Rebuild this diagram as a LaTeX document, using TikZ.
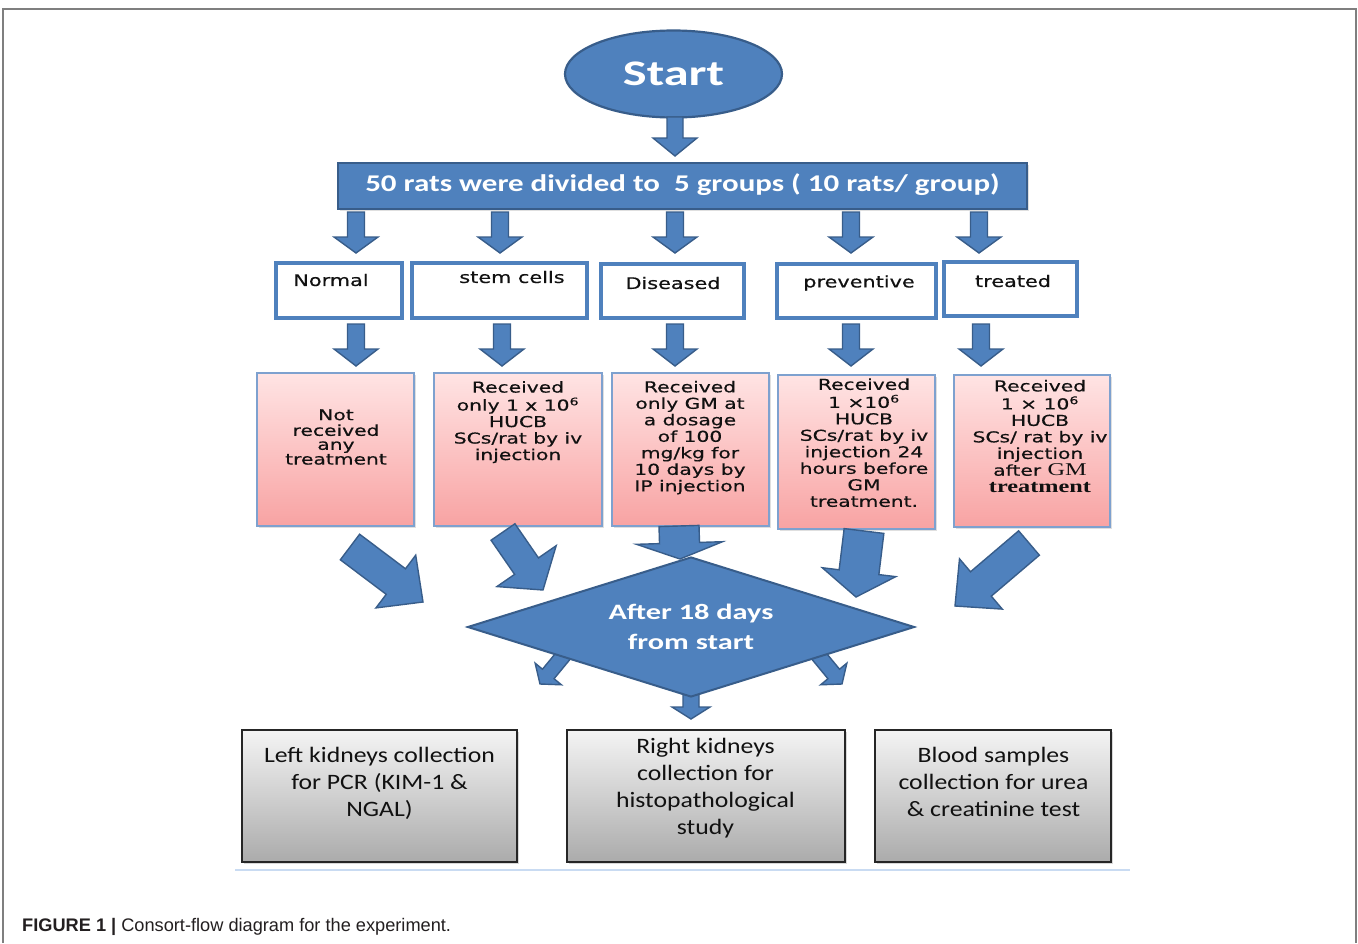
\documentclass[tikz,border=0pt]{standalone}
\usepackage{fontspec}
\usepackage{graphicx}
\usetikzlibrary{calc,shapes.geometric,shadows}
\newfontfamily\calfont{Carlito}
\newfontfamily\verd[FakeBold=0.4]{DejaVu Sans}
\newfontfamily\tms{Liberation Serif}
\newfontfamily\capf{Liberation Sans}
\definecolor{bfill}{HTML}{4F81BD}
\definecolor{bline}{HTML}{385D8A}
\definecolor{pinkT}{HTML}{FFE4E4}
\definecolor{pinkB}{HTML}{F8A3A3}
\definecolor{pline}{HTML}{7EA1CF}
\definecolor{grayT}{HTML}{F4F4F4}
\definecolor{grayB}{HTML}{ABABAB}
\definecolor{txt}{HTML}{111111}
\definecolor{capc}{HTML}{231F20}
\definecolor{framec}{HTML}{7F7F7F}
\definecolor{ruleC}{HTML}{C9DBF2}
\newcommand{\sx}[2]{\scalebox{#1}[1]{\begin{tabular}{@{}c@{}}#2\end{tabular}}}
\newcommand{\barrow}[5]{%
  \coordinate (tmpH) at ($(#2)!#5pt!(#1)$);
  \filldraw[blockarrow] ($(#1)!#3pt!90:(#2)$) -- ($(tmpH)!#3pt!-90:(#1)$) -- ($(tmpH)!#4pt!-90:(#1)$) -- (#2) -- ($(tmpH)!#4pt!90:(#1)$) -- ($(tmpH)!#3pt!90:(#1)$) -- ($(#1)!#3pt!-90:(#2)$) -- cycle;
}
\tikzset{
  blockarrow/.style={fill=bfill, draw=bline, line width=1.4, line join=miter},
  pinkbox/.style={draw=pline, line width=1.5, top color=pinkT, bottom color=pinkB, inner sep=0, outer sep=0,
    drop shadow={shadow xshift=1.5pt, shadow yshift=-1.5pt, opacity=0.25}},
  grpbox/.style={draw=bfill, line width=3.5, fill=white, inner sep=0, outer sep=0},
  graybox/.style={draw=black!85, line width=1.6, top color=grayT, bottom color=grayB, inner sep=0, outer sep=0,
    drop shadow={shadow xshift=2pt, shadow yshift=-2pt, opacity=0.3}},
  bluebox/.style={draw=bline, line width=2.5, fill=bfill, inner sep=0, outer sep=0},
  grptext/.style={font=\verd\fontsize{16}{18}\selectfont, text=txt, inner sep=0},
  ptext/.style={font=\verd\fontsize{15}{16.5}\selectfont, text=txt, inner sep=0},
  qtext/.style={font=\calfont\fontsize{22}{27.3}\selectfont, text=txt, inner sep=0},
  wtext/.style={text=white, inner sep=0},
}
\begin{document}
\begin{tikzpicture}[x=1pt,y=-1pt]
\useasboundingbox (0,0) rectangle (1358,943);
\fill[white] (0,0) rectangle (1358,943);
% frame
\draw[framec, line width=2] (2.5,943) -- (2.5,9) -- (1355.5,9) -- (1355.5,943);

% start
\node[ellipse, draw=bline, fill=bfill, line width=2.2, minimum width=217, minimum height=87, inner sep=0,
  font=\calfont\bfseries\fontsize{36}{40}\selectfont, text=white] (start) at (673.5,74) {\scalebox{1.4}[1]{Start}};

% banner
\node[bluebox, minimum width=689, minimum height=46, drop shadow={shadow xshift=1.5pt, shadow yshift=-1.5pt, opacity=0.25}] (banner) at (682.5,186) {};
\node[wtext, font=\calfont\bfseries\fontsize{24}{28}\selectfont] (bannert) at (682.5,185) {\scalebox{1.29}[1]{50 rats were divided to~~5 groups ( 10 rats/ group)}};

\coordinate (s0) at (675,117);
\coordinate (e0) at (675,156);
\barrow{s0}{e0}{8}{22}{18}

% group boxes
\node[grpbox, minimum width=126, minimum height=55] (g1) at (339,290.5) {};
\node[grpbox, minimum width=175, minimum height=55] (g2) at (499.5,290.5) {};
\node[grpbox, minimum width=143, minimum height=54] (g3) at (672.5,291) {};
\node[grpbox, minimum width=159, minimum height=54] (g4) at (856.5,291) {};
\node[grpbox, minimum width=133, minimum height=54] (g5) at (1010.5,289) {};
\node[grptext] (g1t) at (331,280) {\scalebox{1.3}[1]{Normal}};
\node[grptext] (g2t) at (512,277) {\scalebox{1.3}[1]{stem cells}};
\node[grptext] (g3t) at (673,283) {\scalebox{1.3}[1]{Diseased}};
\node[grptext] (g4t) at (859,283) {\scalebox{1.3}[1]{preventive}};
\node[grptext] (g5t) at (1013,281) {\scalebox{1.3}[1]{treated}};

% arrows banner -> groups -> pink
\foreach \i/\xa/\xb in {1/356/356, 2/500/502, 3/675/675, 4/851/851, 5/979/981}{
  \coordinate (bs\i) at (\xa,212);
  \coordinate (be\i) at (\xa,253);
  \barrow{bs\i}{be\i}{8.5}{22}{16}
  \coordinate (cs\i) at (\xb,324);
  \coordinate (ce\i) at (\xb,366);
  \barrow{cs\i}{ce\i}{8.5}{22}{17}
}

% pink boxes
\node[pinkbox, minimum width=157, minimum height=153] (p1) at (335.5,449.5) {};
\node[pinkbox, minimum width=168, minimum height=153] (p2) at (518,449.5) {};
\node[pinkbox, minimum width=157, minimum height=153] (p3) at (690.5,449.5) {};
\node[pinkbox, minimum width=157, minimum height=154] (p4) at (856.5,452) {};
\node[pinkbox, minimum width=156, minimum height=152] (p5) at (1032,451) {};
\node[ptext, font=\verd\fontsize{15}{14}\selectfont] (p1t) at (336,439) {\sx{1.35}{Not\\received\\any\\treatment}};
\node[ptext] (p2t) at (518,423) {\sx{1.35}{Received\\only 1 x 10\textsuperscript{6}\\HUCB\\SCs/rat by iv\\injection}};
\node[ptext] (p3t) at (690,438.5) {\sx{1.35}{Received\\only GM at\\a dosage\\of 100\\mg/kg for\\10 days by\\IP injection}};
\node[ptext] (p4t) at (864,445) {\sx{1.35}{Received\\1 ×10\textsuperscript{6}\\HUCB\\SCs/rat by iv\\injection 24\\hours before\\GM\\treatment.}};
\node[ptext] (p5t) at (1040,438.5) {\sx{1.35}{Received\\1 × 10\textsuperscript{6}\\HUCB\\SCs/ rat by iv\\injection\\after {\tms\fontsize{18}{16.5}\selectfont GM}\\{\tms\bfseries\fontsize{18}{16.5}\selectfont treatment}}};

% arrows to diamond
\coordinate (d1s) at (350,547);  \coordinate (d1e) at (423,602);
\coordinate (d2s) at (503,532);  \coordinate (d2e) at (543,590);
\coordinate (d3s) at (679,526);  \coordinate (d3e) at (680,559);
\coordinate (d4s) at (864,531);  \coordinate (d4e) at (856,597);
\coordinate (d5s) at (1029,543); \coordinate (d5e) at (955,606);
\barrow{d1s}{d1e}{16}{33}{34}
\barrow{d2s}{d2e}{14.5}{36}{29}
\barrow{d3s}{d3e}{20}{43}{16}
\barrow{d4s}{d4e}{20}{37}{25}
\barrow{d5s}{d5e}{16}{33}{34}

% arrows out of diamond
\coordinate (o1s) at (568,650); \coordinate (o1e) at (540,684);
\coordinate (o2s) at (814,650); \coordinate (o2e) at (842,684);
\coordinate (o3s) at (691,688); \coordinate (o3e) at (691,719);
\barrow{o1s}{o1e}{7.5}{17}{13}
\barrow{o2s}{o2e}{7.5}{17}{13}
\barrow{o3s}{o3e}{8}{19}{12}

% diamond
\node[diamond, draw=bline, fill=bfill, line width=2, aspect=3.19, minimum width=447, minimum height=140, inner sep=0] (dia) at (691,627) {};
\node[wtext, font=\calfont\bfseries\fontsize{22}{30}\selectfont] (diat) at (691,628) {\sx{1.38}{After 18 days\\from start}};

% bottom boxes
\node[graybox, minimum width=275, minimum height=132] (q1) at (379.5,796) {};
\node[graybox, minimum width=278, minimum height=132] (q2) at (706,796) {};
\node[graybox, minimum width=236, minimum height=132] (q3) at (993,796) {};
\node[qtext] (q1t) at (379.5,784) {\sx{1.17}{Left kidneys collection\\for PCR (KIM-1 \&\\NGAL)}};
\node[qtext] (q2t) at (705.5,788.5) {\sx{1.17}{Right kidneys\\collection for\\histopathological\\study}};
\node[qtext] (q3t) at (993.5,784) {\sx{1.17}{Blood samples\\collection for urea\\\& creatinine test}};

\draw[ruleC, line width=2.5] (235,870) -- (1130,870);

% caption
\node[anchor=base west, inner sep=0, text=capc, font=\capf\fontsize{18.2}{21}\selectfont] (cap) at (22,931) {\textbf{FIGURE 1 |} Consort-flow diagram for the experiment.};
\end{tikzpicture}
\end{document}
